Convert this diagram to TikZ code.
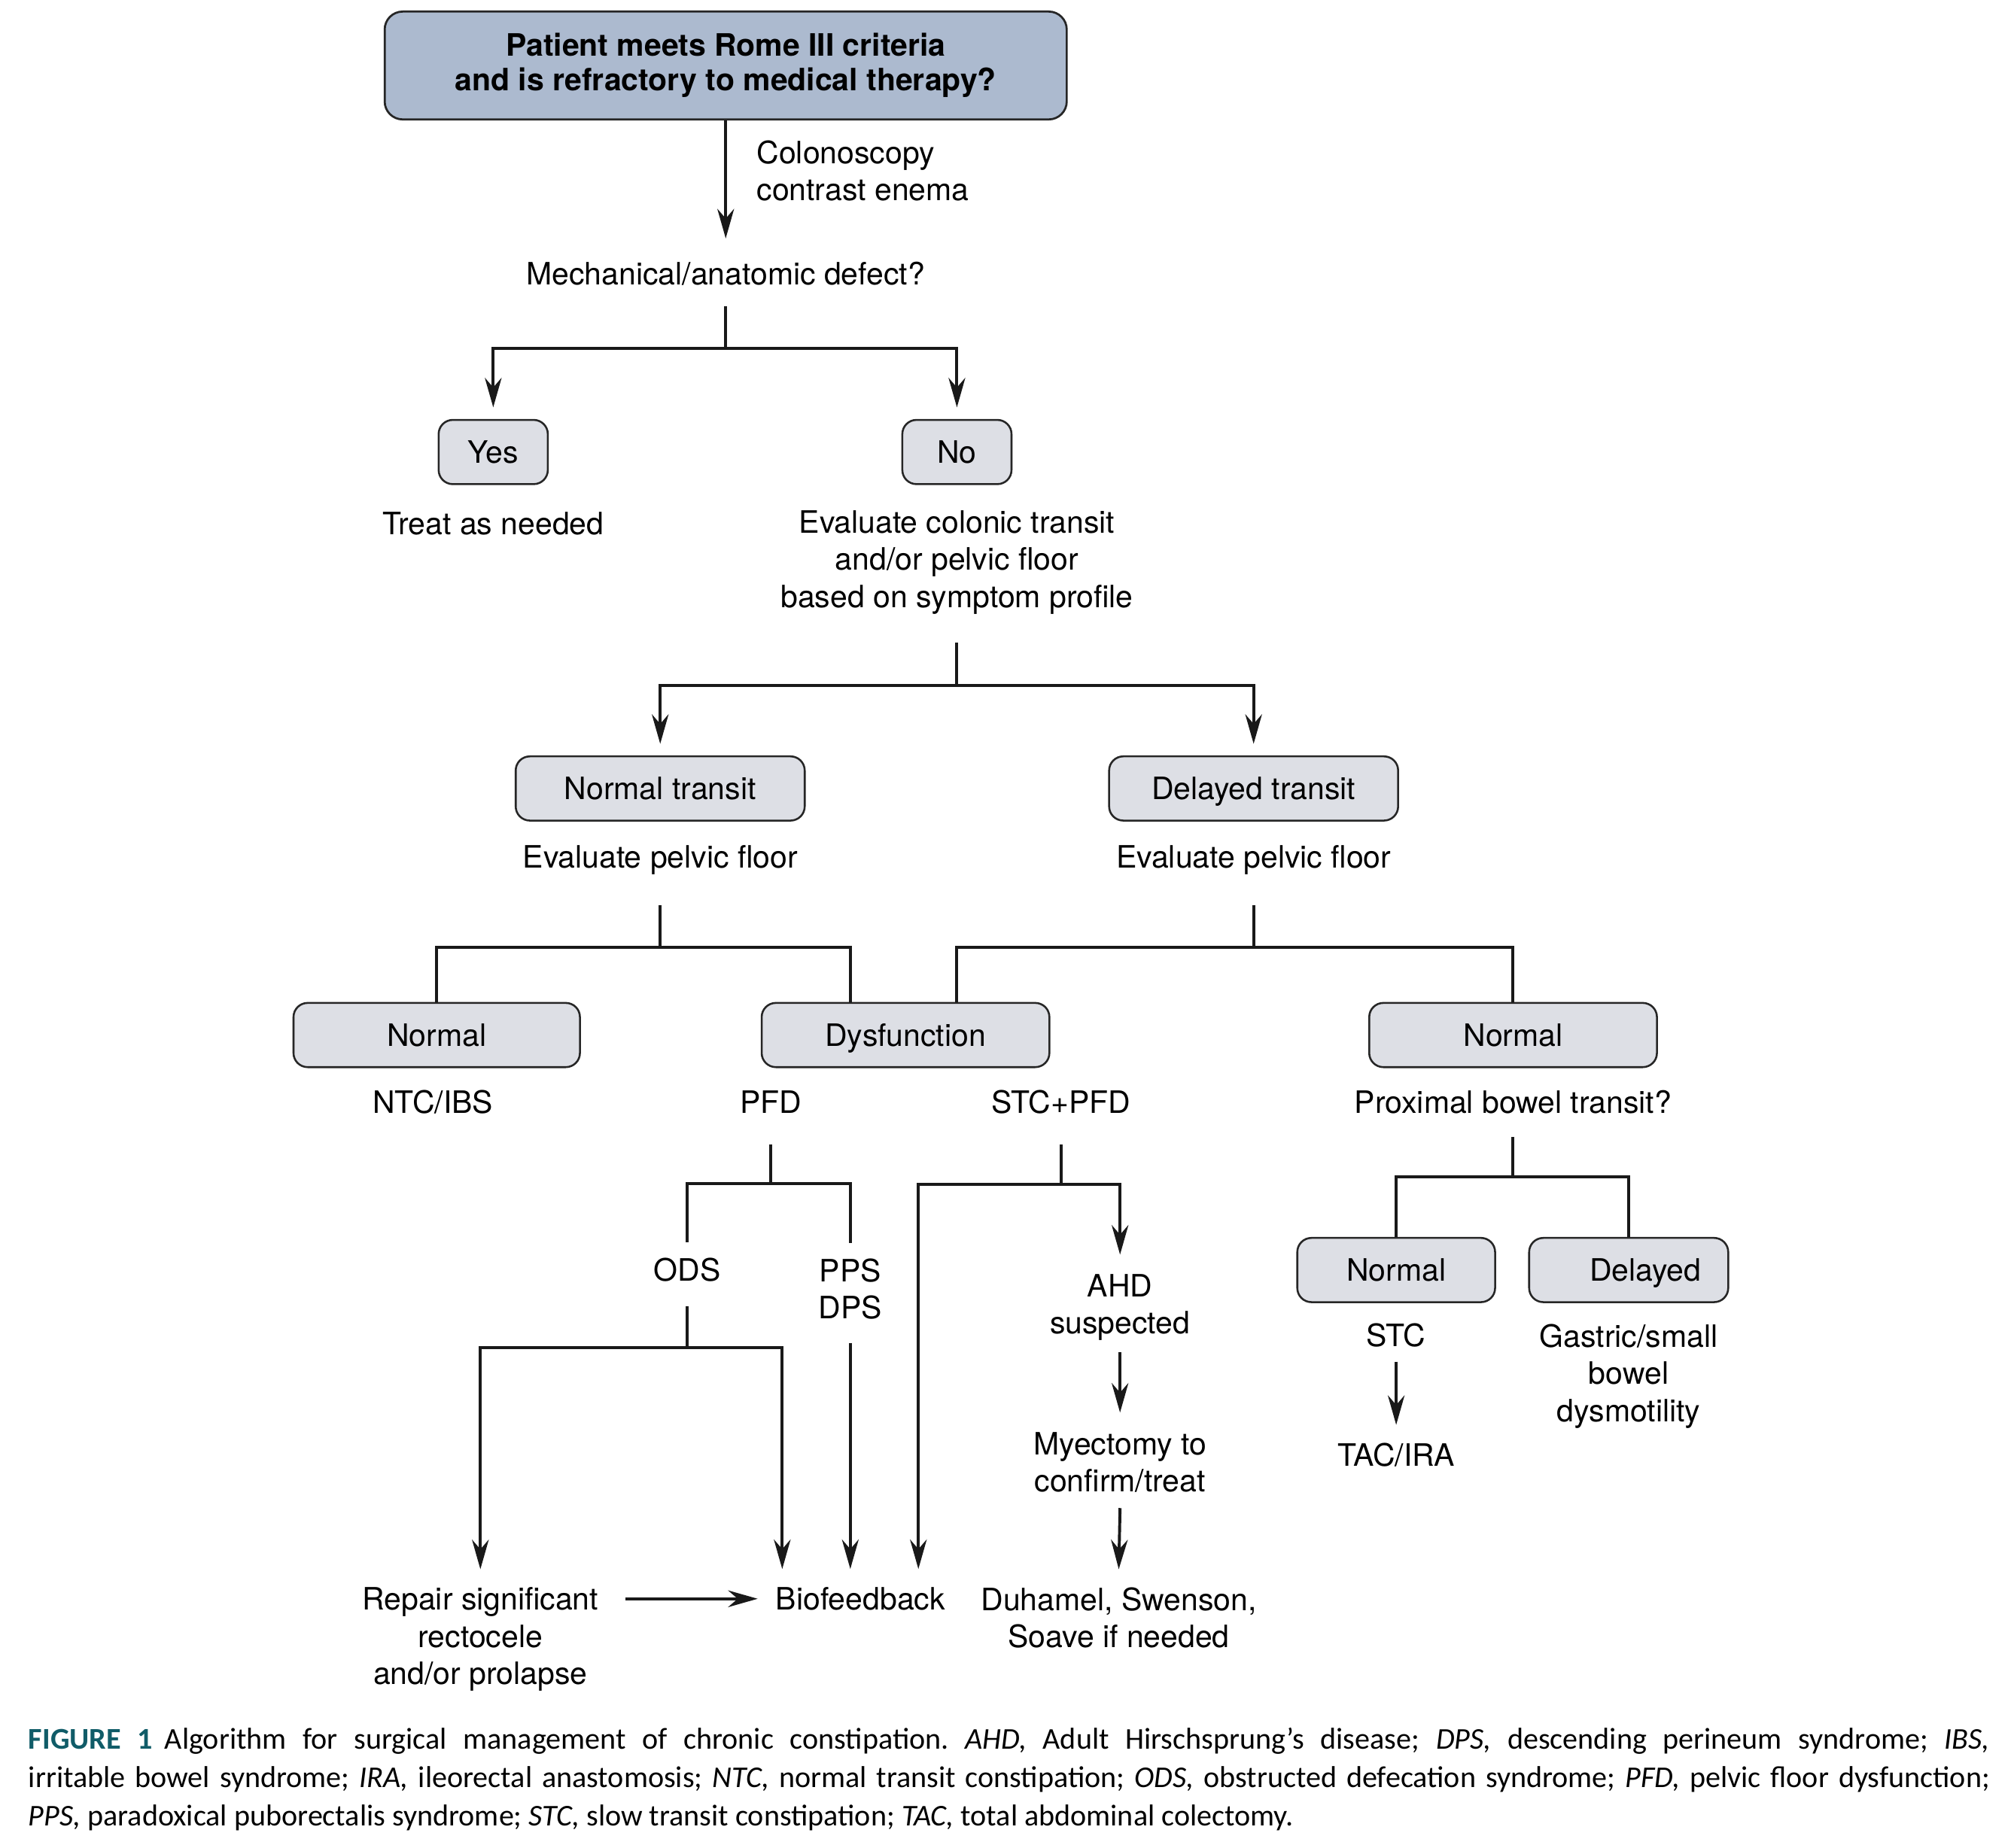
\documentclass[tikz,border=0pt]{standalone}
\usepackage{fontspec}
\setmainfont{TeX Gyre Heros}
\newfontfamily\capfont{Carlito}
\usetikzlibrary{positioning,arrows.meta}
\definecolor{topblue}{RGB}{172,186,207}
\definecolor{boxgrey}{RGB}{221,223,229}
\definecolor{figteal}{RGB}{16,92,104}

\begin{document}
\begin{tikzpicture}[x=1pt,y=1pt,
			bboxnode/.style={rectangle, rounded corners=14pt, draw=black!85, fill=topblue, line width=1.6pt, minimum width=531pt, minimum height=84pt, align=center, inner sep=0pt, font=\fontsize{24}{27}\selectfont\bfseries},
			gboxnode/.style={rectangle, rounded corners=11pt, draw=black!85, fill=boxgrey, line width=1.5pt, minimum height=50pt, text height=17pt, text depth=0pt, align=center, inner sep=0pt, font=\fontsize{24}{29}\selectfont},
			textnode/.style={align=center, inner sep=0pt, font=\fontsize{24}{29}\selectfont},
			capnode/.style={text width=1527pt, align=justify, inner sep=0pt, anchor=north west, font=\capfont\fontsize{23.5}{30}\selectfont\frenchspacing},
			arrline/.style={-{Stealth[length=23pt,width=13pt]}, line width=2.3pt, black!90},
			plainline/.style={line width=2.3pt, black!90},
			]
			\useasboundingbox (0,0) rectangle (1568,-1439);
			%Nodes
			\node[bboxnode]                       (rome)   at (565,-51)   {Patient meets Rome III criteria\\and is refractory to medical therapy?};
			\node[textnode, align=left, anchor=west] (colon) at (589,-133) {Colonoscopy\\contrast enema};
			\node[textnode]                       (mech)   at (565,-213)  {Mechanical/anatomic defect?};
			\node[gboxnode, minimum width=85pt]   (yes)    at (384,-352)  {Yes};
			\node[gboxnode, minimum width=85pt]   (no)     at (745,-352)  {No};
			\node[textnode]                       (treat)  at (384,-408)  {Treat as needed};
			\node[textnode]                       (evalct) at (745,-438)  {Evaluate colonic transit\\and/or pelvic floor\\based on symptom profile};
			\node[gboxnode, minimum width=225pt]  (ntr)    at (514,-614)  {Normal transit};
			\node[gboxnode, minimum width=225pt]  (dtr)    at (976,-614)  {Delayed transit};
			\node[textnode]                       (epfa)   at (514,-670)  {Evaluate pelvic floor};
			\node[textnode]                       (epfb)   at (976,-670)  {Evaluate pelvic floor};
			\node[gboxnode, minimum width=223pt]  (norma)  at (340,-806)  {Normal};
			\node[gboxnode, minimum width=224pt]  (dysf)   at (705,-806)  {Dysfunction};
			\node[gboxnode, minimum width=224pt]  (normb)  at (1178,-806) {Normal};
			\node[textnode]                       (ntc)    at (337,-858)  {NTC/IBS};
			\node[textnode]                       (pfd)    at (600,-858)  {PFD};
			\node[textnode]                       (stcpfd) at (826,-858)  {STC+PFD};
			\node[textnode]                       (prox)   at (1178,-858) {Proximal bowel transit?};
			\node[textnode]                       (ods)    at (535,-989)  {ODS};
			\node[textnode, anchor=north]         (ppsdps) at (662,-980)  {PPS\\DPS};
			\node[textnode, anchor=north]         (ahd)    at (872,-992)  {AHD\\suspected};
			\node[textnode, anchor=north]         (myec)   at (872,-1115) {Myectomy to\\confirm/treat};
			\node[textnode, anchor=north]         (repair) at (374,-1236) {Repair significant\\rectocele\\and/or prolapse};
			\node[textnode]                       (biof)   at (670,-1245) {Biofeedback};
			\node[textnode, anchor=north]         (duh)    at (871,-1236) {Duhamel, Swenson,\\Soave if needed};
			\node[gboxnode, minimum width=154pt]  (normc)  at (1087,-989) {Normal};
			\node[gboxnode, minimum width=155pt]  (delay)  at (1268,-989) {\hspace*{26pt}Delayed};
			\node[textnode]                       (stc)    at (1087,-1040) {STC};
			\node[textnode]                       (tac)    at (1087,-1133) {TAC/IRA};
			\node[textnode, anchor=north]         (gast)   at (1268,-1031) {Gastric/small\\bowel\\dysmotility};
			\node[capnode]                        (cap)    at (22,-1345)  {\textcolor{figteal}{\bfseries FIGURE 1}\hspace{0.4em}Algorithm for surgical management of chronic constipation. \textit{AHD,} Adult Hirschsprung’s disease; \textit{DPS,} descending perineum syndrome; \textit{IBS,}\linebreak irritable bowel syndrome; \textit{IRA,} ileorectal anastomosis; \textit{NTC,} normal transit constipation; \textit{ODS,} obstructed defecation syndrome; \textit{PFD,} pelvic floor dysfunction;\linebreak \textit{PPS,} paradoxical puborectalis syndrome; \textit{STC,} slow transit constipation; \textit{TAC,} total abdominal colectomy.};

			%Lines
			\draw[arrline] (rome.south) -- ([yshift=18pt]mech.north);
			\draw[plainline] ([yshift=-16pt]mech.south) -- ++(0,-33) coordinate (jmech);
			\draw[arrline] (jmech) -| ([yshift=9pt]yes.north);
			\draw[arrline] (jmech) -| ([yshift=9pt]no.north);

			\draw[plainline] ([yshift=-22pt]evalct.south) -- ++(0,-33) coordinate (jeval);
			\draw[arrline] (jeval) -| ([yshift=9pt]ntr.north);
			\draw[arrline] (jeval) -| ([yshift=9pt]dtr.north);

			\draw[plainline] ([yshift=-23pt]epfa.south) -- ++(0,-33) coordinate (jepfa);
			\draw[plainline] (jepfa) -| (norma.north);
			\draw[plainline] (jepfa) -| ([xshift=-43pt]dysf.north);
			\draw[plainline] ([yshift=-23pt]epfb.south) -- ++(0,-33) coordinate (jepfb);
			\draw[plainline] (jepfb) -| ([xshift=40pt]dysf.north);
			\draw[plainline] (jepfb) -| (normb.north);

			\draw[plainline] ([yshift=-24pt]pfd.south) -- ++(0,-31) coordinate (jpfd);
			\draw[plainline] (jpfd) -| ([yshift=12pt]ods.north);
			\draw[plainline] (jpfd) -| ([yshift=12pt]ppsdps.north);

			\draw[plainline] ([yshift=-24pt]stcpfd.south) -- ++(0,-31) coordinate (jstc);
			\draw[arrline] (jstc) -| ([yshift=15pt]ahd.north);
			\draw[arrline] (jstc) -| ([xshift=45pt,yshift=14pt]biof.north);

			\draw[plainline] ([yshift=-19pt]ods.south) -- ++(0,-32) coordinate (jods);
			\draw[arrline] (jods) -| ([yshift=14pt]repair.north);
			\draw[arrline] (jods) -| ([xshift=-61pt,yshift=14pt]biof.north);
			\draw[arrline] ([yshift=-18pt]ppsdps.south) -- ([xshift=-8pt,yshift=14pt]biof.north);

			\draw[arrline] ([yshift=-9pt]ahd.south) -- ([yshift=15pt]myec.north);
			\draw[arrline] ([yshift=-12pt]myec.south) -- ([yshift=14pt]duh.north);

			\path ([xshift=21pt]repair.north east) coordinate (rrep);
			\draw[arrline] (rrep |- biof.west) -- ([xshift=-14pt]biof.west);

			\draw[plainline] ([yshift=-18pt]prox.south) -- ++(0,-31) coordinate (jprox);
			\draw[plainline] (jprox) -| (normc.north);
			\draw[plainline] (jprox) -| (delay.north);
			\draw[arrline] ([yshift=-11pt]stc.south) -- ([yshift=14pt]tac.north);
		\end{tikzpicture}
\end{document}
